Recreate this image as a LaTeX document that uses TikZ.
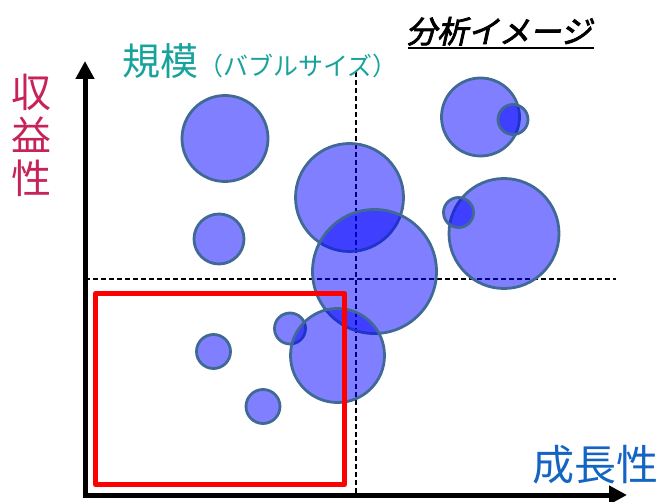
\documentclass[tikz,border=0pt]{standalone}
\usepackage{fontspec}
\usetikzlibrary{arrows.meta}
\newfontfamily\jp{Noto Sans CJK JP}
\newfontfamily\jpit[FakeSlant=0.22,FakeBold=2.5]{Noto Sans CJK JP}
\definecolor{bord}{RGB}{65,105,150}
\definecolor{tealc}{RGB}{24,162,156}
\definecolor{crim}{RGB}{198,36,88}
\definecolor{blu}{RGB}{20,100,195}
\tikzset{
  bub/.style={circle, draw=bord, line width=2.8pt, fill=blue, fill opacity=0.5, draw opacity=1, inner sep=0pt, minimum size=#1},
  guide/.style={black, line width=1.4pt, dash pattern=on 5pt off 3pt},
  axis/.style={line width=5pt, -{Triangle[width=18pt,length=18pt]}},
  lbl/.style={inner sep=0pt, outer sep=0pt}
}
\begin{document}
\begin{tikzpicture}[x=1pt,y=-1pt]
\useasboundingbox (0,0) rectangle (661,502);
% guides
\coordinate (vt) at (356,72);
\coordinate (vb) at (356,495);
\coordinate (hl) at (85,279);
\coordinate (hr) at (616,279);
\draw[guide] (vt) -- (vb);
\draw[guide] (hl) -- (hr);
% bubbles
\node[bub=86pt]  (b1)  at (225,138.5) {};
\node[bub=50pt]  (b2)  at (219,239) {};
\node[bub=108pt] (b3)  at (349.5,197.5) {};
\node[bub=124pt] (b4)  at (374.5,271.5) {};
\node[bub=78pt]  (b5)  at (480.5,117) {};
\node[bub=30pt]  (b6)  at (513,119.5) {};
\node[bub=110pt] (b7)  at (504,233.5) {};
\node[bub=30pt]  (b8)  at (458.5,212.5) {};
\node[bub=31pt]  (b10) at (290,328.5) {};
\node[bub=94pt]  (b9)  at (337.5,355.5) {};
\node[bub=34pt]  (b11) at (213.5,351.5) {};
\node[bub=34pt]  (b12) at (263,406.5) {};
% red focus box
\draw[red, line width=5pt, line join=round] (95.5,293.5) rectangle (344.5,484.5);
% axes
\coordinate (ytip) at (85,61);
\coordinate (xtip) at (627,495);
\coordinate (o1) at (85,497.5);
\coordinate (o2) at (82.5,495);
\draw[axis] (o1) -- (ytip);
\draw[axis] (o2) -- (xtip);
% texts
\node[lbl, anchor=base west] (title) at (406,43) {\jpit\fontsize{31}{33}\selectfont 分析イメージ};
\coordinate (ul1) at (408,48.5);
\coordinate (ul2) at (594,48.5);
\draw[line width=2pt] (ul1) -- (ul2);
\node[lbl, anchor=base west, text=tealc] (scale) at (122,76) {\jp{\fontsize{38}{40}\selectfont 規模}{\fontsize{25}{27}\selectfont （バブルサイズ）}};
\node[lbl, anchor=base, text=crim] (y1) at (31,108) {\jp\fontsize{40}{42}\selectfont 収};
\node[lbl, anchor=base, text=crim] (y2) at (31,151) {\jp\fontsize{40}{42}\selectfont 益};
\node[lbl, anchor=base, text=crim] (y3) at (31,194) {\jp\fontsize{40}{42}\selectfont 性};
\node[lbl, anchor=base west, text=blu] (xl) at (532,480) {\jp\fontsize{42}{44}\selectfont 成長性};
\end{tikzpicture}
\end{document}
